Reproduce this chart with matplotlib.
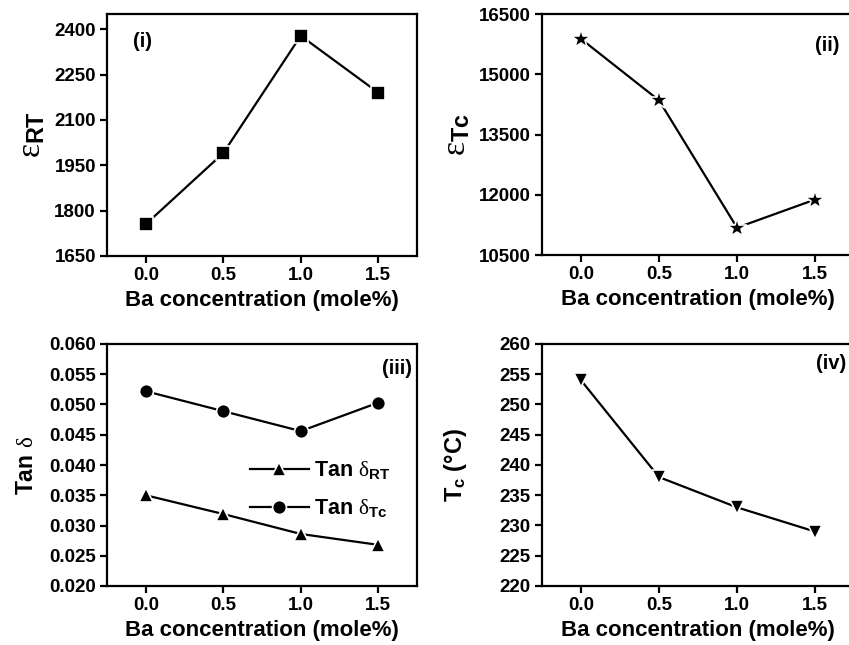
import matplotlib
matplotlib.use("Agg")
import matplotlib.pyplot as plt

plt.rcParams['font.family'] = ['Liberation Sans', 'DejaVu Sans']
plt.rcParams['font.weight'] = 'bold'
plt.rcParams['mathtext.fontset'] = 'custom'
plt.rcParams['mathtext.rm'] = 'Liberation Serif:weight=normal:style=normal'
plt.rcParams['mathtext.it'] = 'Liberation Serif:weight=normal:style=normal'
plt.rcParams['mathtext.bf'] = 'Liberation Sans:weight=bold'
plt.rcParams['mathtext.sf'] = 'Liberation Sans:weight=bold'

ba = [0.0, 0.5, 1.0, 1.5]
eps_rt = [1755, 1990, 2378, 2190]
eps_tc = [15880, 14350, 11180, 11880]
tan_rt = [0.0350, 0.0319, 0.0286, 0.0268]
tan_tc = [0.0522, 0.0489, 0.0456, 0.0503]
tc = [254, 238, 233, 229]

xticks = [0.0, 0.5, 1.0, 1.5]
yticks_i = [1650, 1800, 1950, 2100, 2250, 2400]
yticks_ii = [10500, 12000, 13500, 15000, 16500]
yticks_iii = [0.020, 0.025, 0.030, 0.035, 0.040, 0.045, 0.050, 0.055, 0.060]
yticks_iv = [220, 225, 230, 235, 240, 245, 250, 255, 260]

W, H = 849, 645
fig = plt.figure(figsize=(W/100, H/100), dpi=100)

def mk(left, top, bottom, width):
    return fig.add_axes([left/W, (H-bottom)/H, width/W, (bottom-top)/H])

ax1 = mk(107, 14, 256, 310)
ax2 = mk(542, 14, 255, 312)
ax3 = mk(107, 344, 586, 310)
ax4 = mk(542, 344, 586, 312)

line_kw = dict(color='black', lw=1.6, mec='white', mew=1.2, mfc='black')

ax1.plot(ba, eps_rt, marker='s', ms=9.5, **line_kw)
ax2.plot(ba, eps_tc, marker='*', ms=15, **line_kw)
ax3.plot(ba, tan_rt, marker='^', ms=10.5, label=r'Tan $\delta_{\mathbf{RT}}$', **line_kw)
ax3.plot(ba, tan_tc, marker='o', ms=10, label=r'Tan $\delta_{\mathbf{Tc}}$', **line_kw)
ax4.plot(ba, tc, marker='v', ms=10.5, **line_kw)

for ax, yt in [(ax1, yticks_i), (ax2, yticks_ii), (ax3, yticks_iii), (ax4, yticks_iv)]:
    ax.set_xlim(-0.25, 1.75)
    ax.set_xticks(xticks)
    ax.set_xticklabels(['%.1f' % v for v in xticks])
    ax.set_yticks(yt)
    ax.set_ylim(yt[0], yt[-1])
    for s in ax.spines.values():
        s.set_linewidth(1.6)
    ax.tick_params(direction='out', length=5, width=1.6, labelsize=13.5,
                   top=False, right=False, pad=3)
    for lab in ax.get_xticklabels() + ax.get_yticklabels():
        lab.set_fontweight('bold')
    ax.set_xlabel('Ba concentration (mole%)', fontsize=16, fontweight='bold', labelpad=4)

ax1.set_ylim(1650, 2450)
ax3.set_yticklabels(['%.3f' % v for v in yticks_iii])

ax1.set_ylabel(r'$\varepsilon_{\mathbf{RT}}$', fontsize=24, labelpad=5)
ax2.set_ylabel(r'$\varepsilon_{\mathbf{Tc}}$', fontsize=24, labelpad=5)
ax3.set_ylabel(r'Tan $\delta$', fontsize=16.5, fontweight='bold', labelpad=8)
ax4.set_ylabel(r'T$_{\mathbf{c}}$ (°C)', fontsize=17, fontweight='bold', labelpad=22)

ax1.text(0.113, 0.888, '(i)', transform=ax1.transAxes, fontsize=14.5, fontweight='bold', va='center', ha='center')
ax2.text(0.913, 0.871, '(ii)', transform=ax2.transAxes, fontsize=14.5, fontweight='bold', va='center', ha='center')
ax3.text(0.935, 0.90, '(iii)', transform=ax3.transAxes, fontsize=14.5, fontweight='bold', va='center', ha='center')
ax4.text(0.926, 0.92, '(iv)', transform=ax4.transAxes, fontsize=14.5, fontweight='bold', va='center', ha='center')

leg = ax3.legend(loc='center left', bbox_to_anchor=(0.40, 0.40), frameon=False,
                 handlelength=2.7, handletextpad=0.25, labelspacing=0.75,
                 prop={'weight': 'bold', 'size': 15.5})

fig.savefig('out.png', dpi=100)
